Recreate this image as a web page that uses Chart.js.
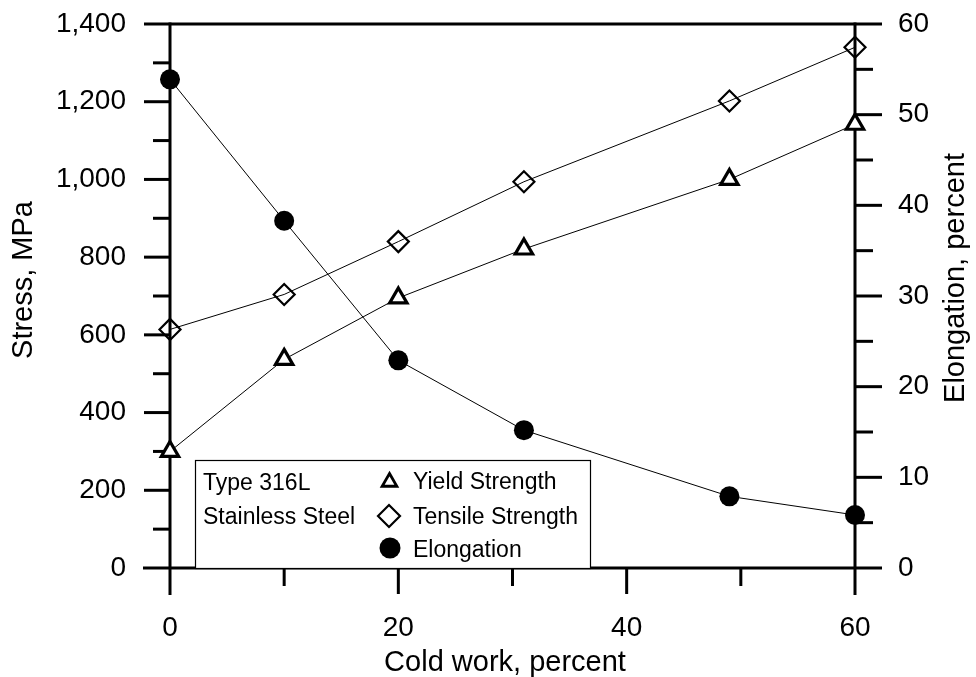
<!DOCTYPE html>
<html>
<head>
<meta charset="utf-8">
<script src="https://cdn.jsdelivr.net/npm/chart.js@4/dist/chart.umd.min.js"></script>
<style>
  html, body { margin: 0; padding: 0; background: #fff; }
  #wrap { width: 976px; height: 677px; }
</style>
</head>
<body>
<div id="wrap"><canvas id="c" width="976" height="677"></canvas></div>
<script>
// Cold work (percent) at which each specimen was tested
const coldWork = [0, 10, 20, 31, 49, 60];
// Stress values, MPa
const yieldStrength = [300, 537, 695, 821, 1000, 1142];
const tensileStrength = [614, 704, 840, 994, 1202, 1340];
// Elongation, percent
const elongation = [53.9, 38.3, 22.9, 15.2, 7.9, 5.85];

// Axis ranges and tick steps
const coldWorkRange = [0, 60];
const stressRange = [0, 1400];
const elongationRange = [0, 60];
const coldWorkStep = 20;
const stressStep = 200;
const elongationStep = 10;

const FONT = '"Liberation Sans", Arial, Helvetica, sans-serif';
const pts = (ys) => coldWork.map((x, i) => ({ x, y: ys[i] }));

// Axis frame with outward major/minor ticks
const framePlugin = {
  id: 'frame',
  beforeDatasetsDraw(chart) {
    const { ctx, scales: { x, y, y2 } } = chart;
    const L = x.getPixelForValue(coldWorkRange[0]);
    const R = x.getPixelForValue(coldWorkRange[1]);
    const T = y.getPixelForValue(stressRange[1]);
    const B = y.getPixelForValue(stressRange[0]);
    ctx.save();
    ctx.strokeStyle = '#000';
    ctx.lineWidth = 3;
    const seg = (x1, y1, x2, y2_) => { ctx.beginPath(); ctx.moveTo(x1, y1); ctx.lineTo(x2, y2_); ctx.stroke(); };
    seg(L - 26, T, R + 27, T);
    seg(L - 27, B, R + 27, B);
    seg(L, T - 1.5, L, B + 27);
    seg(R, T - 1.5, R, B + 27);
    for (let v = stressRange[0] + stressStep / 2; v < stressRange[1]; v += stressStep / 2) {
      const len = (v % stressStep === 0) ? 26 : 17;
      const py = y.getPixelForValue(v);
      seg(L - len, py, L, py);
    }
    for (let v = elongationRange[0] + elongationStep / 2; v < elongationRange[1]; v += elongationStep / 2) {
      const len = (v % elongationStep === 0) ? 27 : 18;
      const py = y2.getPixelForValue(v);
      seg(R, py, R + len, py);
    }
    for (let v = coldWorkRange[0] + coldWorkStep / 2; v < coldWorkRange[1]; v += coldWorkStep / 2) {
      const len = (v % coldWorkStep === 0) ? 26 : 18;
      const px = x.getPixelForValue(v);
      seg(px, B, px, B + len);
    }
    ctx.restore();
  }
};

// Axis titles and the boxed key
const annotatePlugin = {
  id: 'annotate',
  afterDraw(chart) {
    const { ctx, scales: { y } } = chart;
    ctx.save();
    ctx.fillStyle = '#000';
    ctx.font = '29px ' + FONT;
    ctx.textAlign = 'center';
    ctx.textBaseline = 'middle';
    ctx.fillText('Cold work, percent', 505, 663);

    ctx.save();
    ctx.translate(24, 280);
    ctx.rotate(-Math.PI / 2);
    ctx.fillText('Stress, MPa', 0, 0);
    ctx.restore();

    ctx.save();
    ctx.translate(956, 278);
    ctx.rotate(-Math.PI / 2);
    ctx.fillText('Elongation, percent', 0, 0);
    ctx.restore();

    // key box
    const boxL = 195, boxT = 460, boxR = 590, boxB = y.getPixelForValue(0);
    ctx.fillStyle = '#fff';
    ctx.fillRect(boxL, boxT, boxR - boxL, boxB - boxT);
    ctx.strokeStyle = '#000';
    ctx.lineWidth = 1.2;
    ctx.strokeRect(boxL + 0.5, boxT + 0.5, boxR - boxL, boxB - boxT);

    ctx.fillStyle = '#000';
    ctx.font = '23px ' + FONT;
    ctx.textAlign = 'left';
    ctx.textBaseline = 'alphabetic';
    ctx.fillText('Type 316L', 203, 490);
    ctx.fillText('Stainless Steel', 203, 524);
    ctx.fillText('Yield Strength', 413, 489);
    ctx.fillText('Tensile Strength', 413, 524);
    ctx.fillText('Elongation', 413, 557);

    // key markers drawn through the same point helper the datasets use
    const mark = (style, r, bw, fill, px, py) => {
      ctx.save();
      ctx.strokeStyle = '#000';
      ctx.fillStyle = fill;
      ctx.lineWidth = bw;
      Chart.helpers.drawPoint(ctx, { pointStyle: style, radius: r, borderWidth: bw, rotation: 0 }, px, py);
      ctx.restore();
    };
    mark('triangle', 8.5, 2.8, '#fff', 389.5, 482);
    mark('rectRot', 11, 2.2, 'rgba(0,0,0,0)', 389, 516);
    mark('circle', 10.5, 0, '#000', 390, 548);
    ctx.restore();
  }
};

new Chart(document.getElementById('c'), {
  type: 'scatter',
  data: {
    datasets: [
      {
        label: 'Yield Strength',
        data: pts(yieldStrength),
        yAxisID: 'y',
        showLine: true,
        borderColor: '#000',
        borderWidth: 1,
        pointStyle: 'triangle',
        pointRadius: 10,
        pointBorderWidth: 3.2,
        pointBackgroundColor: '#fff',
        pointBorderColor: '#000',
        clip: false
      },
      {
        label: 'Tensile Strength',
        data: pts(tensileStrength),
        yAxisID: 'y',
        showLine: true,
        borderColor: '#000',
        borderWidth: 1,
        pointStyle: 'rectRot',
        pointRadius: 10.5,
        pointBorderWidth: 2.2,
        pointBackgroundColor: 'rgba(0,0,0,0)',
        pointBorderColor: '#000',
        clip: false
      },
      {
        label: 'Elongation',
        data: pts(elongation),
        yAxisID: 'y2',
        showLine: true,
        borderColor: '#000',
        borderWidth: 1,
        pointStyle: 'circle',
        pointRadius: 10,
        pointBorderWidth: 0,
        pointBackgroundColor: '#000',
        pointBorderColor: '#000',
        clip: false
      }
    ]
  },
  options: {
    responsive: false,
    animation: false,
    layout: { padding: { top: 24, left: 0, right: 0, bottom: 0 } },
    plugins: { legend: { display: false }, tooltip: { enabled: false } },
    scales: {
      x: {
        type: 'linear',
        position: 'bottom',
        min: coldWorkRange[0],
        max: coldWorkRange[1],
        grid: { display: false, drawTicks: false },
        border: { display: false },
        ticks: { stepSize: coldWorkStep, color: '#000', font: { family: FONT, size: 28 }, padding: 43, maxRotation: 0 },
        afterFit(s) { s.height = 109; s.paddingLeft = 0; s.paddingRight = 0; }
      },
      y: {
        type: 'linear',
        position: 'left',
        min: stressRange[0],
        max: stressRange[1],
        grid: { display: false, drawTicks: false },
        border: { display: false },
        ticks: { stepSize: stressStep, color: '#000', font: { family: FONT, size: 28 }, padding: 44 },
        afterFit(s) { s.width = 170; s.paddingTop = 0; s.paddingBottom = 0; }
      },
      y2: {
        type: 'linear',
        position: 'right',
        min: elongationRange[0],
        max: elongationRange[1],
        grid: { display: false, drawTicks: false },
        border: { display: false },
        ticks: { stepSize: elongationStep, color: '#000', font: { family: FONT, size: 28 }, padding: 43 },
        afterFit(s) { s.width = 121; s.paddingTop = 0; s.paddingBottom = 0; }
      }
    }
  },
  plugins: [framePlugin, annotatePlugin]
});
</script>
</body>
</html>
